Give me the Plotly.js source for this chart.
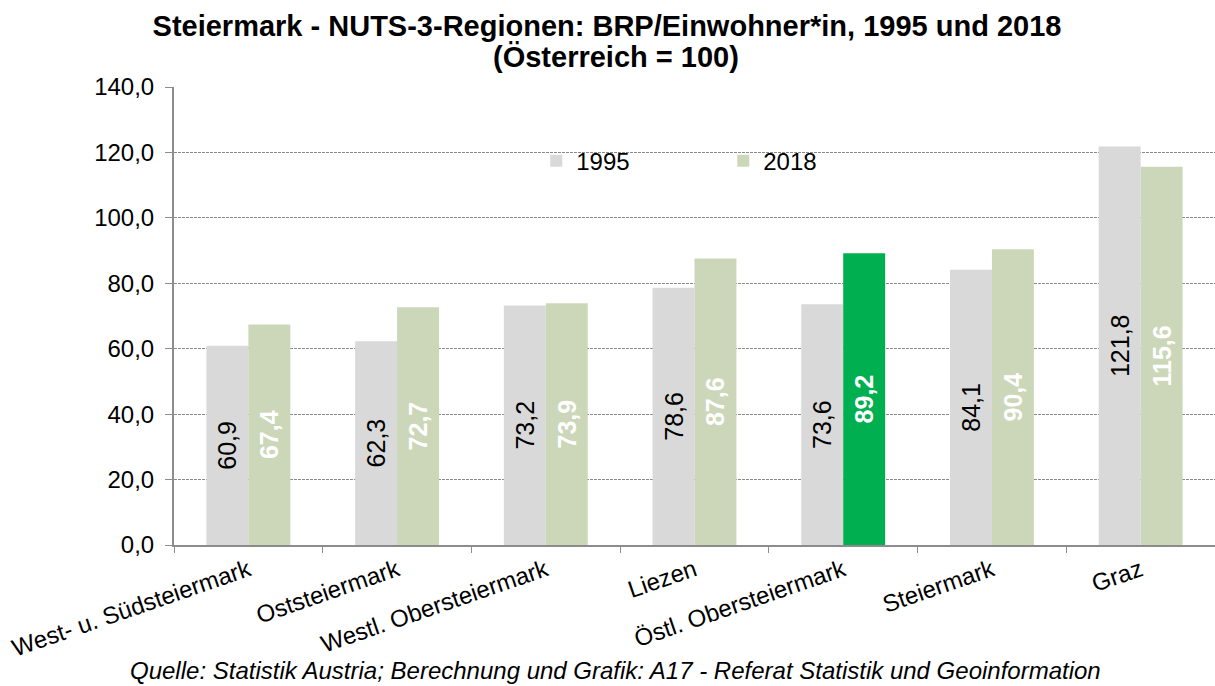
<!DOCTYPE html>
<html>
<head>
<meta charset="utf-8">
<script src="https://cdn.plot.ly/plotly-3.0.1.min.js"></script>
<style>html,body{margin:0;padding:0;background:#fff;}#chart{width:1215px;height:686px;}</style>
</head>
<body>
<div id="chart"></div>
<script>
const categories = ["West- u. Südsteiermark", "Oststeiermark", "Westl. Obersteiermark", "Liezen", "Östl. Obersteiermark", "Steiermark", "Graz"];
const values1995 = [60.9, 62.3, 73.2, 78.6, 73.6, 84.1, 121.8];
const values2018 = [67.4, 72.7, 73.9, 87.6, 89.2, 90.4, 115.6];
const highlightRegion = "Östl. Obersteiermark";
const yTicks = [0, 20, 40, 60, 80, 100, 120, 140];

const FONT = "Arial, 'Liberation Sans', sans-serif";
const col1995 = "#d9d9d9";
const col2018 = "#ccd7b9";
const colHighlight = "#00b050";

const colors2018 = categories.map(c => c === highlightRegion ? colHighlight : col2018);

const traces = [
  {
    type: "bar", name: "1995", x: categories, y: values1995,
    marker: {color: col1995},
    texttemplate: "%{y:.1f}", textposition: "inside",
    insidetextanchor: "middle", textangle: -90,
    textfont: {family: FONT, size: 25, color: "#000000"},
    hoverinfo: "x+y"
  },
  {
    type: "bar", name: "2018", x: categories, y: values2018,
    marker: {color: colors2018},
    texttemplate: "<b>%{y:.1f}</b>", textposition: "inside",
    insidetextanchor: "middle", textangle: -90,
    textfont: {family: FONT, size: 25, color: "#ffffff"},
    hoverinfo: "x+y"
  }
];

const layout = {
  width: 1215, height: 686,
  margin: {l: 174, r: 0, t: 87, b: 141},
  paper_bgcolor: "#ffffff", plot_bgcolor: "#ffffff",
  separators: ", ",
  font: {family: FONT, color: "#000000"},
  uniformtext: {mode: "show", minsize: 25},
  title: {
    text: "<b>Steiermark - NUTS-3-Regionen: BRP/Einwohner*in, 1995 und 2018</b>",
    font: {family: FONT, size: 29, color: "#000000"},
    xref: "paper", x: (607 - 174) / 1041, xanchor: "center", yref: "container", y: 1 - 26/686, yanchor: "middle"
  },
  barmode: "group", bargap: 0.436, bargroupgap: 0,
  showlegend: true,
  legend: {
    orientation: "h", x: 0.348, xanchor: "left", y: 0.838, yanchor: "middle",
    font: {family: FONT, size: 24, color: "#000000"},
    entrywidth: 142, entrywidthmode: "pixels",
    bgcolor: "rgba(0,0,0,0)"
  },
  xaxis: {
    type: "category", tickson: "boundaries", ticks: "outside", ticklen: 6, tickcolor: "#8c8c8c",
    showline: true, linecolor: "#8c8c8c", linewidth: 2,
    tickangle: -19, tickfont: {family: FONT, size: 24, color: "#000000"},
    showgrid: false, automargin: false
  },
  yaxis: {
    range: [0, 140], tickvals: yTicks, tickformat: ".1f",
    ticks: "outside", ticklen: 7, tickcolor: "#8c8c8c",
    showline: true, linecolor: "#8c8c8c", linewidth: 2,
    tickfont: {family: FONT, size: 24, color: "#000000"},
    ticklabelstandoff: 6,
    showgrid: true, gridcolor: "#8a8a8a", gridwidth: 1, griddash: "3px,1px",
    zeroline: false, automargin: false
  },
  annotations: [
    {
      text: "<b>(Österreich = 100)</b>",
      xref: "paper", yref: "paper", x: (616 - 174) / 1041, y: 1 + (87 - 57) / 458,
      xanchor: "center", yanchor: "middle", showarrow: false,
      font: {family: FONT, size: 29, color: "#000000"}
    },
    {
      text: "<i>Quelle: Statistik Austria; Berechnung und Grafik: A17 - Referat Statistik und Geoinformation</i>",
      xref: "paper", yref: "paper", x: (615 - 174) / 1041, y: -(670 - 545) / 458, xanchor: "center", yanchor: "middle",
      showarrow: false, font: {family: FONT, size: 24, color: "#000000"}
    }
  ]
};

Plotly.newPlot("chart", traces, layout, {displayModeBar: false, staticPlot: true});
</script>
</body>
</html>
